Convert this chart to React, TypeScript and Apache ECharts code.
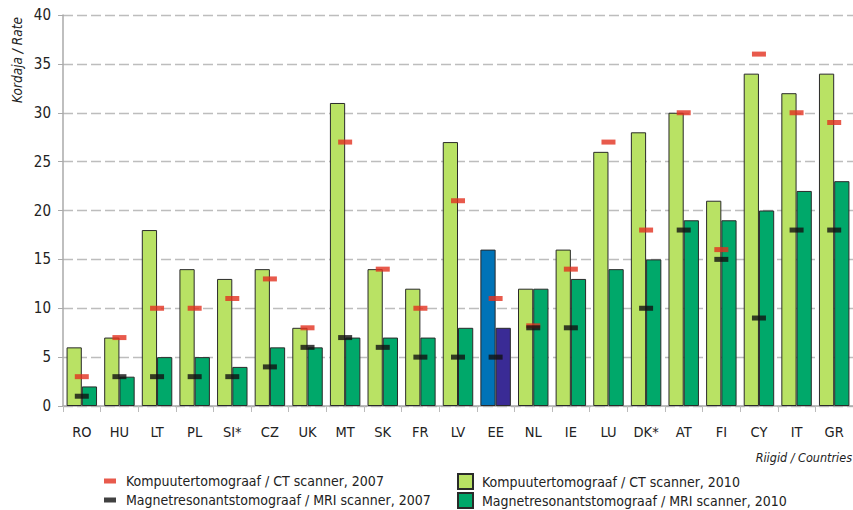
import React, { useEffect, useRef } from "react";
import * as echarts from "echarts";

const categories = ["RO", "HU", "LT", "PL", "SI*", "CZ", "UK", "MT", "SK", "FR", "LV", "EE", "NL", "IE", "LU", "DK*", "AT", "FI", "CY", "IT", "GR"];
const ct2010 = [6, 7, 18, 14, 13, 14, 8, 31, 14, 12, 27, 16, 12, 16, 26, 28, 30, 21, 34, 32, 34];
const mri2010 = [2, 3, 5, 5, 4, 6, 6, 7, 7, 7, 8, 8, 12, 13, 14, 15, 19, 19, 20, 22, 23];
const ct2007: (number | null)[] = [3, 7, 10, 10, 11, 13, 8, 27, 14, 10, 21, 11, 8.2, 14, 27, 18, 30, 16, 36, 30, 29];
const mri2007: (number | null)[] = [1, 3, 3, 3, 3, 4, 6, 7, 6, 5, 5, 5, 8, 8, null, 10, 18, 15, 9, 18, 18];
const yTicks = { min: 0, max: 40, interval: 5 };

const names = {
  ct07: "Kompuutertomograaf / CT scanner, 2007",
  mri07: "Magnetresonantstomograaf / MRI scanner, 2007",
  ct10: "Kompuutertomograaf / CT scanner, 2010",
  mri10: "Magnetresonantstomograaf / MRI scanner, 2010",
};

const FONT = "'DejaVu Sans Condensed', 'Liberation Sans Narrow', Roboto, sans-serif";
const highlight = "EE";

export default function App() {
  const ref = useRef<HTMLDivElement>(null);
  useEffect(() => {
    if (!ref.current) return;
    const chart = echarts.init(ref.current, undefined, { renderer: "svg" });
    const ctData = ct2010.map((v, i) =>
      categories[i] === highlight ? { value: v, itemStyle: { color: "#0073b7" } } : v
    );
    const mriData = mri2010.map((v, i) =>
      categories[i] === highlight ? { value: v, itemStyle: { color: "#3a2b95" } } : v
    );
    chart.setOption({
      animation: false,
      textStyle: { fontFamily: FONT },
      grid: { left: 63, right: 0, top: 15, bottom: 104, containLabel: false },
      xAxis: {
        type: "category",
        data: categories,
        boundaryGap: true,
        axisLine: { lineStyle: { color: "#aaaaaa", width: 1.5 } },
        axisTick: { show: true, length: 6, lineStyle: { color: "#bbbbbb" } },
        axisLabel: { color: "#222", fontSize: 14.5, margin: 18, fontFamily: FONT, interval: 0 },
      },
      yAxis: {
        type: "value",
        min: yTicks.min,
        max: yTicks.max,
        interval: yTicks.interval,
        axisLine: { show: true, lineStyle: { color: "#aaaaaa", width: 1.5 } },
        axisTick: { show: true, length: 5, lineStyle: { color: "#aaaaaa" } },
        axisLabel: { color: "#222", fontSize: 15, margin: 12, fontFamily: FONT },
        splitLine: { show: true, lineStyle: { color: "#bdbdbd", width: 1.3, type: [10, 4] } },
      },
      legend: [
        {
          orient: "vertical",
          left: 104,
          top: 474,
          width: 340,
          height: 70,
          padding: 0,
          icon: "rect",
          itemWidth: 12,
          itemHeight: 5,
          itemGap: 5,
          textStyle: { fontSize: 14, lineHeight: 14, color: "#222", fontFamily: FONT, padding: [0, 0, 0, 5] },
          data: [names.ct07, names.mri07],
        },
        {
          orient: "vertical",
          left: 457,
          top: 473,
          width: 390,
          height: 70,
          padding: 0,
          itemWidth: 15,
          itemHeight: 15,
          itemGap: 2,
          icon: "rect",
          textStyle: { fontSize: 14, lineHeight: 15, color: "#222", fontFamily: FONT, padding: [0, 0, 0, 4] },
          data: [names.ct10, names.mri10],
        },
      ],
      series: [
        {
          name: names.ct10,
          type: "bar",
          data: ctData,
          barGap: "0%",
          barCategoryGap: "19%",
          itemStyle: { color: "#b9e264", borderColor: "#2a2a2a", borderWidth: 1 },
          z: 2,
        },
        {
          name: names.mri10,
          type: "bar",
          data: mriData,
          itemStyle: { color: "#00a86a", borderColor: "#2a2a2a", borderWidth: 1 },
          z: 2,
        },
        {
          name: names.ct07,
          type: "scatter",
          data: ct2007,
          symbol: "rect",
          symbolSize: [14, 5],
          itemStyle: { color: "#e2311f" },
          z: 5,
        },
        {
          name: names.mri07,
          type: "scatter",
          data: mri2007,
          symbol: "rect",
          symbolSize: [14, 5],
          itemStyle: { color: "#111111" },
          z: 6,
        },
      ],
      graphic: [
        {
          type: "text",
          x: 17,
          y: 60,
          rotation: Math.PI / 2,
          style: {
            text: "Kordaja / Rate",
            fontSize: 13.5,
            fontStyle: "italic",
            fontFamily: FONT,
            fill: "#222",
            align: "center",
            verticalAlign: "middle",
          },
        },
        {
          type: "text",
          right: 1,
          top: 451,
          style: {
            text: "Riigid / Countries",
            fontSize: 12.5,
            fontStyle: "italic",
            fontFamily: FONT,
            fill: "#222",
          },
        },
      ],
    });
    return () => chart.dispose();
  }, []);
  return (
    <div
      ref={ref}
      style={{ position: "fixed", left: 0, top: 0, width: 853, height: 510, background: "#fff" }}
    />
  );
}
